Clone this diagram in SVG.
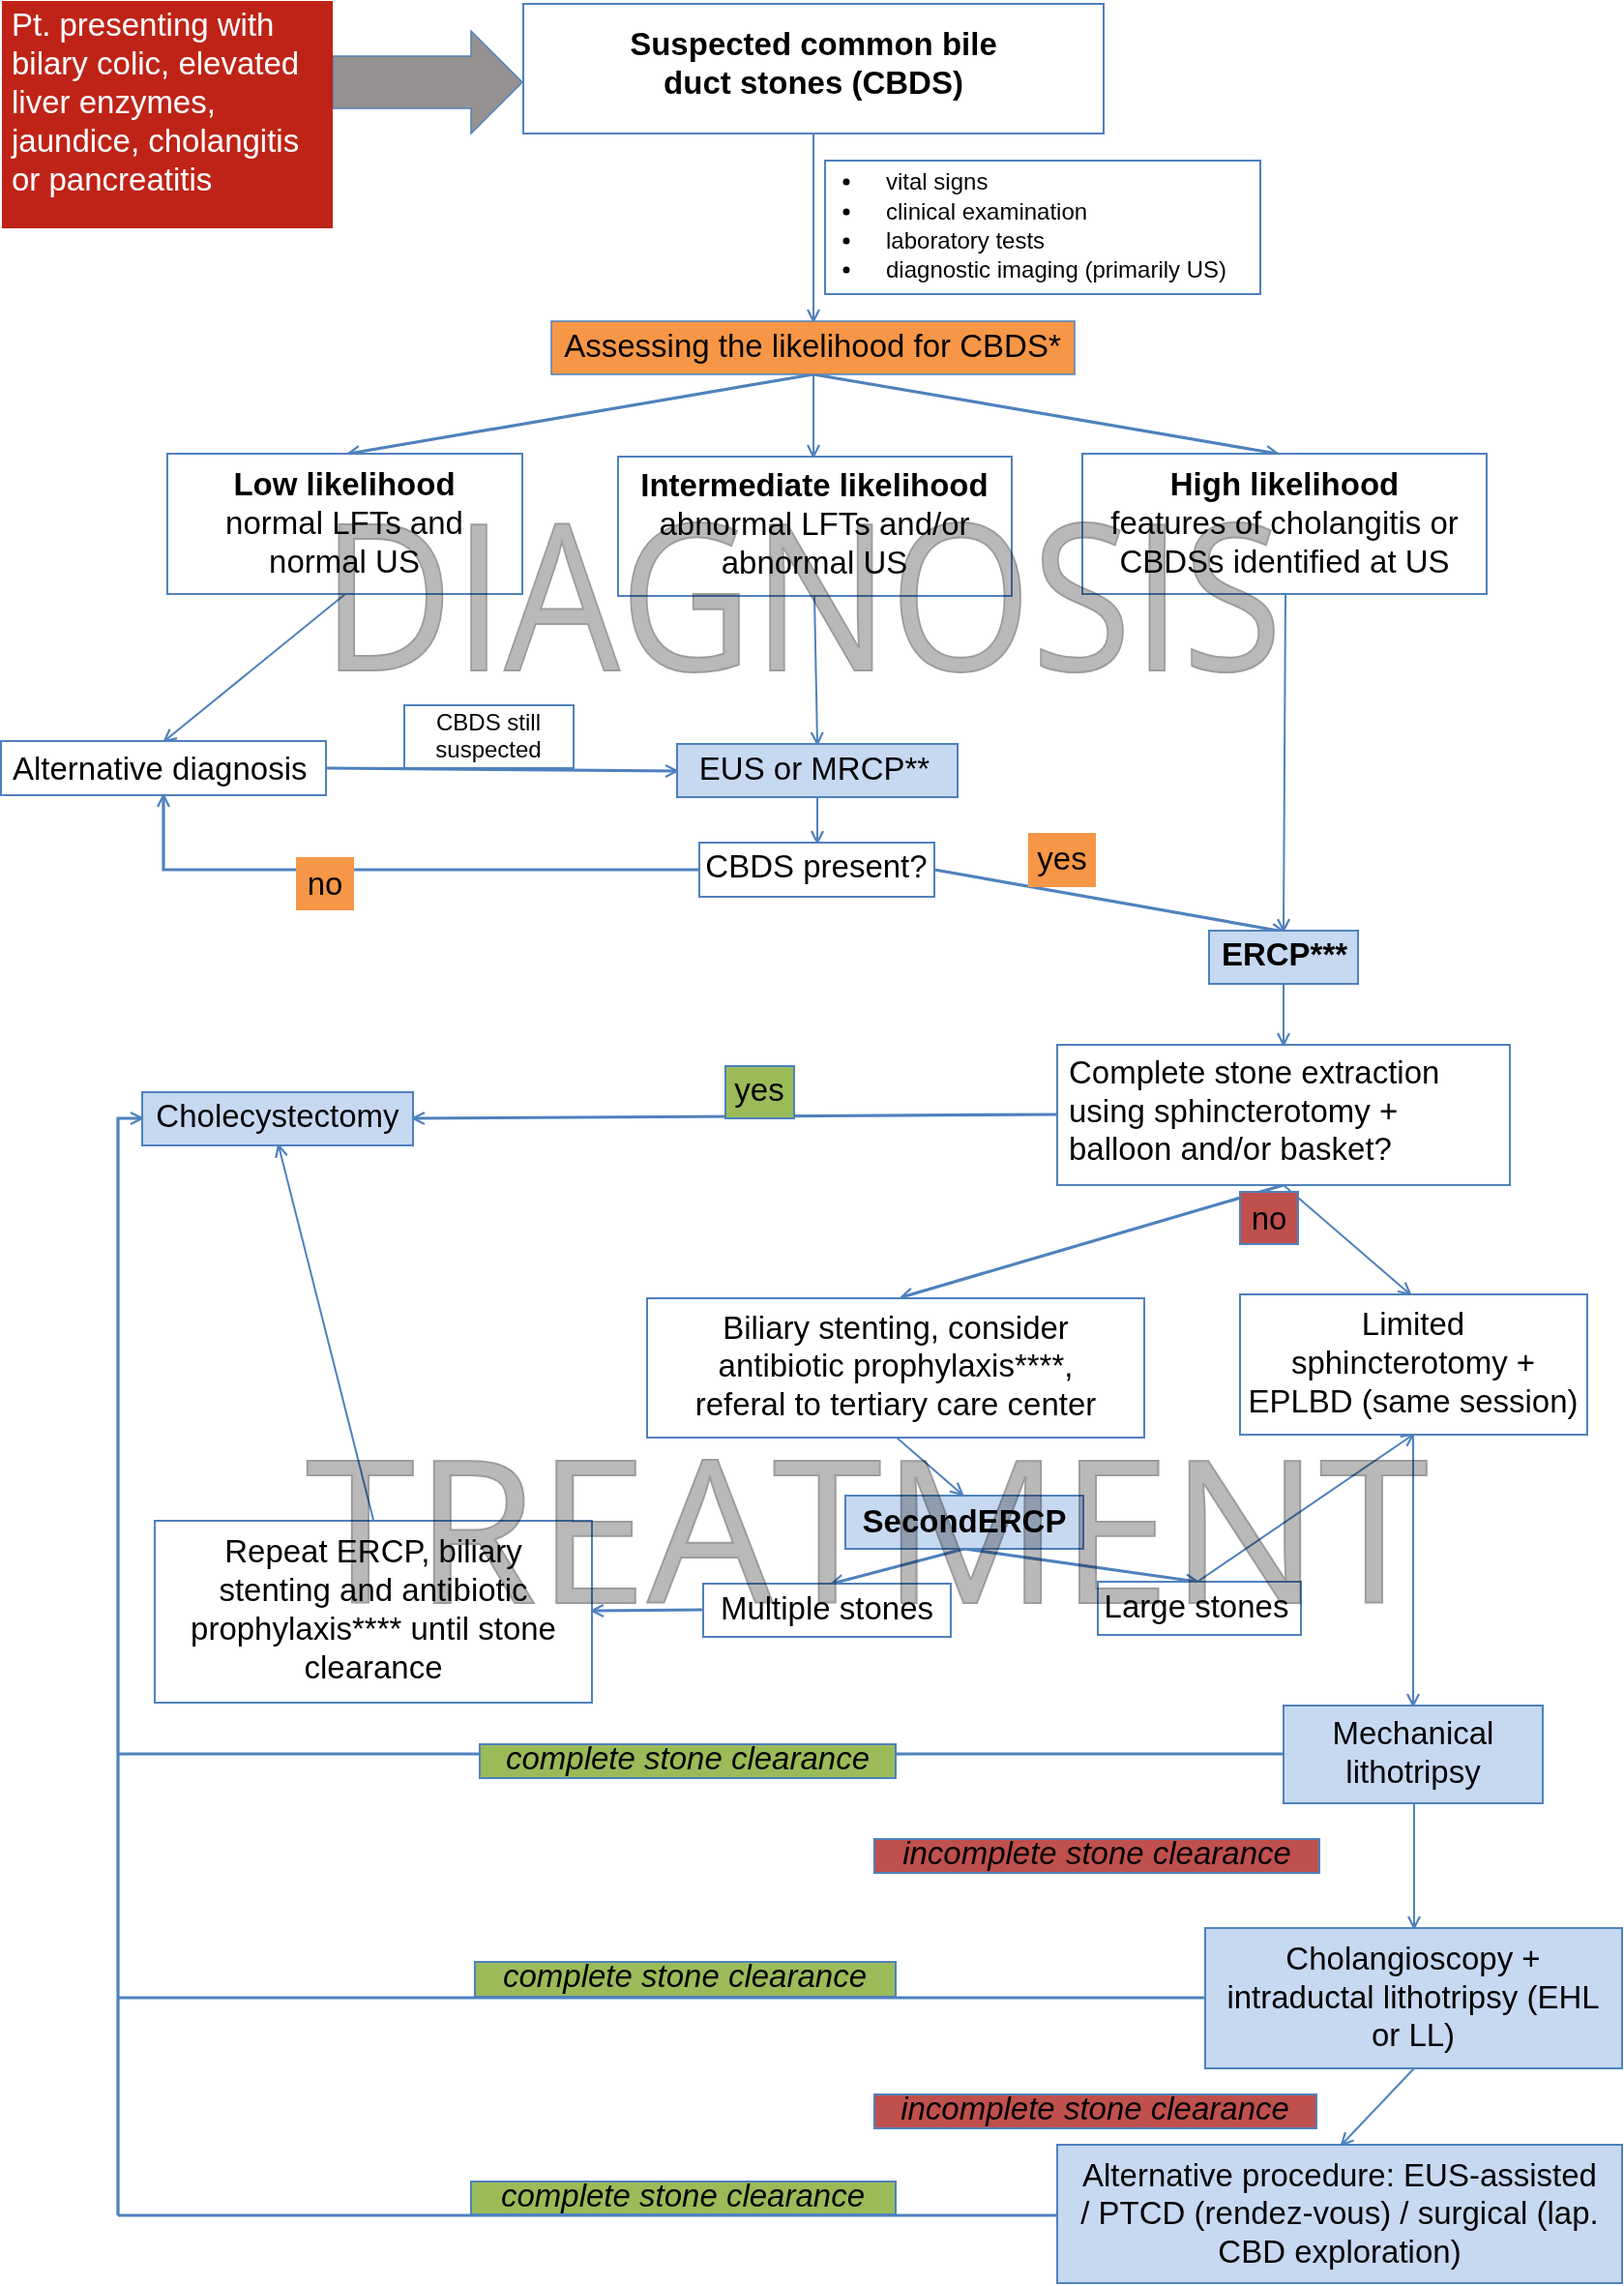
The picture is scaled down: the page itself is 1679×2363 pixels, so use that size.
<svg xmlns="http://www.w3.org/2000/svg" width="1679" height="2363" viewBox="0 0 1679 2363">
<style>
  text { font-family: "Liberation Sans", Arial, sans-serif; font-size: 33px; fill: #000; }
  .b { font-weight: bold; }
  .c { text-anchor: middle; }
  .i { font-style: italic; }
  .s { font-size: 24px; }
  .w { fill: #fff; }
  .box { fill: #fff; stroke: #4F81BD; stroke-width: 2; }
  .blue { fill: #C6D9F1; stroke: #4F81BD; stroke-width: 2; }
  .org { fill: #F79646; }
  .grn { fill: #9BBB59; stroke: #4F81BD; stroke-width: 2; }
  .red { fill: #C0504D; stroke: #4F81BD; stroke-width: 2; }
  .ln { fill: none; stroke: #4F81BD; stroke-width: 2; }
  .th { stroke-width: 3.2; }
  .ar { marker-end: url(#arr); }
  .wm { font-family: "Open Sans", "Noto Sans", sans-serif; fill: #B9B9B9; stroke: #9C9C9C; stroke-width: 2; }
  .wm1 { font-size: 210px; }
  .wm2 { font-size: 206px; }
</style>
<defs>
  <marker id="arr" viewBox="0 0 16 16" refX="14" refY="8" markerWidth="16" markerHeight="16" markerUnits="userSpaceOnUse" orient="auto">
    <path d="M2,2 L14,8 L2,14" fill="none" stroke="#4F81BD" stroke-width="2.2"/>
  </marker>
</defs>
<rect width="1679" height="2363" fill="#fff"/>

<g id="connectors">
  <polygon points="344,58 487,58 487,32 540,85 487,138 487,112 344,112" fill="#959291" stroke="#4F81BD" stroke-width="1.5"/>
  <line class="ln ar" x1="841" y1="138" x2="841" y2="332"/>
  <line class="ln th ar" x1="841" y1="387" x2="360" y2="469"/>
  <line class="ln ar" x1="841" y1="387" x2="841" y2="472"/>
  <line class="ln th ar" x1="841" y1="387" x2="1321" y2="469"/>
  <line class="ln ar" x1="357" y1="614" x2="170" y2="766"/>
  <line class="ln ar" x1="842" y1="616" x2="845" y2="769"/>
  <line class="ln th ar" x1="337" y1="794" x2="700" y2="797"/>
  <line class="ln ar" x1="845" y1="824" x2="845" y2="871"/>
  <polyline class="ln th ar" points="723,899 169,899 169,822"/>
  <line class="ln th ar" x1="966" y1="899" x2="1327" y2="963"/>
  <line class="ln ar" x1="1329" y1="614" x2="1327" y2="962"/>
  <line class="ln ar" x1="1327" y1="1017" x2="1327" y2="1080"/>
  <line class="ln th ar" x1="1093" y1="1152" x2="427" y2="1156"/>
  <line class="ln th ar" x1="1327" y1="1225" x2="932" y2="1341"/>
  <line class="ln ar" x1="1327" y1="1225" x2="1458" y2="1338"/>
  <line class="ln ar" x1="927" y1="1486" x2="995" y2="1545"/>
  <line class="ln th ar" x1="997" y1="1601" x2="860" y2="1637"/>
  <line class="ln th ar" x1="997" y1="1601" x2="1238" y2="1635"/>
  <line class="ln ar" x1="1238" y1="1635" x2="1461" y2="1483"/>
  <line class="ln ar" x1="1461" y1="1483" x2="1461" y2="1763"/>
  <line class="ln th ar" x1="727" y1="1664" x2="612" y2="1665"/>
  <line class="ln ar" x1="386" y1="1571" x2="288" y2="1184"/>
  <line class="ln th" x1="1327" y1="1813" x2="122" y2="1813"/>
  <line class="ln th" x1="1246" y1="2065" x2="122" y2="2065"/>
  <line class="ln th" x1="1093" y1="2290" x2="122" y2="2290"/>
  <polyline class="ln th ar" points="122,2290 122,1156 147,1156"/>
  <line class="ln ar" x1="1462" y1="1864" x2="1462" y2="1993"/>
  <line class="ln ar" x1="1462" y1="2138" x2="1387" y2="2217"/>
</g>

<g id="n-presenting">
  <rect x="2" y="1" width="342" height="235" fill="#BF2318"/>
  <text class="w" x="12" y="37">Pt. presenting with</text>
  <text class="w" x="12" y="77">bilary colic, elevated</text>
  <text class="w" x="12" y="117">liver enzymes,</text>
  <text class="w" x="12" y="157">jaundice, cholangitis</text>
  <text class="w" x="12" y="197">or pancreatitis</text>
</g>
<g id="n-suspected">
  <rect class="box" x="541" y="4" width="600" height="134"/>
  <text class="b c" x="841" y="57">Suspected common bile</text>
  <text class="b c" x="841" y="97">duct stones (CBDS)</text>
</g>
<g id="n-workup">
  <rect class="box" x="853" y="166" width="450" height="138"/>
  <circle cx="875" cy="188" r="3.5"/><circle cx="875" cy="219" r="3.5"/><circle cx="875" cy="249" r="3.5"/><circle cx="875" cy="279" r="3.5"/>
  <text class="s" x="916" y="196">vital signs</text>
  <text class="s" x="916" y="227">clinical examination</text>
  <text class="s" x="916" y="257">laboratory tests</text>
  <text class="s" x="916" y="287">diagnostic imaging (primarily US)</text>
</g>
<g id="n-assessing">
  <rect class="org" x="570" y="332" width="541" height="55" stroke="#4F81BD" stroke-width="1.5"/>
  <text class="c" x="840" y="369">Assessing the likelihood for CBDS*</text>
</g>
<g id="n-low">
  <rect class="box" x="173" y="469" width="367" height="145" fill="none"/>
  <text class="b c" x="356" y="512">Low likelihood</text>
  <text class="c" x="356" y="552">normal LFTs and</text>
  <text class="c" x="356" y="592">normal US</text>
</g>
<g id="n-intermediate">
  <rect class="box" x="639" y="472" width="407" height="144" fill="none"/>
  <text class="b c" x="842" y="513">Intermediate likelihood</text>
  <text class="c" x="842" y="553">abnormal LFTs and/or</text>
  <text class="c" x="842" y="593">abnormal US</text>
</g>
<g id="n-high">
  <rect class="box" x="1119" y="469" width="418" height="145" fill="none"/>
  <text class="b c" x="1328" y="512">High likelihood</text>
  <text class="c" x="1328" y="552">features of cholangitis or</text>
  <text class="c" x="1328" y="592">CBDSs identified at US</text>
</g>
<g id="n-altdiag">
  <rect class="box" x="1" y="766" width="336" height="56"/>
  <text x="13" y="806">Alternative diagnosis</text>
</g>
<g id="l-still">
  <rect class="box" x="418" y="729" width="175" height="65"/>
  <text class="s c" x="505" y="755">CBDS still</text>
  <text class="s c" x="505" y="783">suspected</text>
</g>
<g id="n-eus">
  <rect class="blue" x="700" y="769" width="290" height="55"/>
  <text class="c" x="842" y="806">EUS or MRCP**</text>
</g>
<g id="n-present">
  <rect class="box" x="723" y="871" width="243" height="56"/>
  <text class="c" x="844" y="907">CBDS present?</text>
</g>
<g id="l-no1">
  <rect class="org" x="306" y="886" width="60" height="55"/>
  <text class="c" x="336" y="925">no</text>
</g>
<g id="l-yes1">
  <rect class="org" x="1063" y="861" width="70" height="56"/>
  <text class="c" x="1098" y="899">yes</text>
</g>
<g id="n-ercp">
  <rect class="blue" x="1250" y="962" width="154" height="55"/>
  <text class="b c" x="1328" y="998">ERCP***</text>
</g>
<g id="n-complete">
  <rect class="box" x="1093" y="1080" width="468" height="145"/>
  <text x="1105" y="1120">Complete stone extraction</text>
  <text x="1105" y="1160">using sphincterotomy +</text>
  <text x="1105" y="1199">balloon and/or basket?</text>
</g>
<g id="n-chole">
  <rect class="blue" x="147" y="1129" width="280" height="55"/>
  <text class="c" x="287" y="1165">Cholecystectomy</text>
</g>
<g id="l-yes2">
  <rect class="grn" x="750" y="1102" width="71" height="54" stroke="none"/>
  <text class="c" x="785" y="1138">yes</text>
</g>
<g id="l-no2">
  <rect class="red" x="1282" y="1232" width="60" height="54" stroke="none"/>
  <text class="c" x="1312" y="1271">no</text>
</g>
<g id="n-biliary">
  <rect class="box" x="669" y="1342" width="514" height="144" fill="none"/>
  <text class="c" x="926" y="1384">Biliary stenting, consider</text>
  <text class="c" x="926" y="1423">antibiotic prophylaxis****,</text>
  <text class="c" x="926" y="1463">referal to tertiary care center</text>
</g>
<g id="n-limited">
  <rect class="box" x="1282" y="1338" width="359" height="145" fill="none"/>
  <text class="c" x="1461" y="1380">Limited</text>
  <text class="c" x="1461" y="1420">sphincterotomy +</text>
  <text class="c" x="1461" y="1460">EPLBD (same session)</text>
</g>
<g id="n-second">
  <rect class="blue" x="874" y="1546" width="246" height="55"/>
  <text class="b c" x="997" y="1584">SecondERCP</text>
</g>
<g id="n-multiple">
  <rect class="box" x="727" y="1637" width="256" height="55" fill="none"/>
  <text class="c" x="855" y="1674">Multiple stones</text>
</g>
<g id="n-large">
  <rect class="box" x="1135" y="1635" width="210" height="55" fill="none"/>
  <text class="c" x="1237" y="1672">Large stones</text>
</g>
<g id="n-repeat">
  <rect class="box" x="160" y="1572" width="452" height="188" fill="none"/>
  <text class="c" x="386" y="1615">Repeat ERCP, biliary</text>
  <text class="c" x="386" y="1655">stenting and antibiotic</text>
  <text class="c" x="386" y="1695">prophylaxis**** until stone</text>
  <text class="c" x="386" y="1735">clearance</text>
</g>
<g id="n-mech">
  <rect class="blue" x="1327" y="1763" width="268" height="101"/>
  <text class="c" x="1461" y="1803">Mechanical</text>
  <text class="c" x="1461" y="1843">lithotripsy</text>
</g>
<g id="l-complete1">
  <rect class="grn" x="496" y="1803" width="430" height="35"/>
  <text class="i c" x="711" y="1829">complete stone clearance</text>
</g>
<g id="l-incomplete1">
  <rect class="red" x="904" y="1901" width="460" height="35"/>
  <text class="i c" x="1134" y="1927">incomplete stone clearance</text>
</g>
<g id="n-cholangio">
  <rect class="blue" x="1246" y="1993" width="431" height="145"/>
  <text class="c" x="1461" y="2036">Cholangioscopy +</text>
  <text class="c" x="1461" y="2076">intraductal lithotripsy (EHL</text>
  <text class="c" x="1461" y="2115">or LL)</text>
</g>
<g id="l-complete2">
  <rect class="grn" x="491" y="2028" width="435" height="36"/>
  <text class="i c" x="708" y="2054">complete stone clearance</text>
</g>
<g id="l-incomplete2">
  <rect class="red" x="904" y="2165" width="457" height="35"/>
  <text class="i c" x="1132" y="2191">incomplete stone clearance</text>
</g>
<g id="n-altproc">
  <rect class="blue" x="1093" y="2217" width="584" height="143"/>
  <text class="c" x="1385" y="2260">Alternative procedure: EUS-assisted</text>
  <text class="c" x="1385" y="2299">/ PTCD (rendez-vous) / surgical (lap.</text>
  <text class="c" x="1385" y="2339">CBD exploration)</text>
</g>
<g id="l-complete3">
  <rect class="grn" x="487" y="2255" width="439" height="34"/>
  <text class="i c" x="706" y="2281">complete stone clearance</text>
</g>

<g id="watermarks" style="mix-blend-mode:multiply">
  <text class="wm wm1" x="332" y="693" textLength="994" lengthAdjust="spacingAndGlyphs">DIAGNOSIS</text>
  <text class="wm wm2" x="316" y="1657" textLength="1161" lengthAdjust="spacingAndGlyphs">TREATMENT</text>
</g>
</svg>
